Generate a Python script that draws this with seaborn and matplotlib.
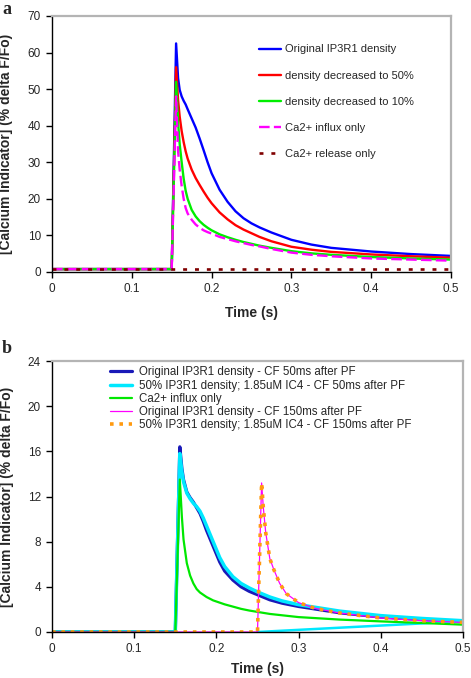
import numpy as np
import pandas as pd
import seaborn as sns
import matplotlib
matplotlib.use("Agg")
import matplotlib.pyplot as plt

# ---- panel a data ----
ta = [0, 0.150, 0.1555, 0.158, 0.160, 0.1625, 0.165, 0.1675, 0.170, 0.175, 0.180,
      0.185, 0.190, 0.195, 0.200, 0.210, 0.220, 0.230, 0.240, 0.250, 0.260,
      0.275, 0.300, 0.325, 0.350, 0.400, 0.450, 0.500]
a_orig = [0.8, 0.8, 62.5, 53, 49.8, 48, 46.8, 45.8, 44.5, 42, 39.5, 36.5, 33.3, 30,
          27, 22.5, 19.2, 16.6, 14.7, 13.3, 12.2, 10.8, 8.8, 7.5, 6.6, 5.6, 4.9, 4.4]
a_50 = [0.8, 0.8, 56, 47, 42.5, 38.5, 35.5, 33, 31, 28, 25.7, 23.8, 22, 20.3,
        18.8, 16.3, 14.4, 12.8, 11.6, 10.6, 9.6, 8.4, 6.9, 6.1, 5.5, 4.8, 4.3, 3.9]
a_10 = [0.8, 0.8, 52, 41, 35, 30, 25.5, 22.2, 20, 17, 15.2, 13.9, 12.9, 12.1,
        11.4, 10.3, 9.5, 8.8, 8.2, 7.7, 7.2, 6.6, 5.7, 5.1, 4.7, 4.1, 3.7, 3.4]
a_influx = [0.8, 0.8, 48, 33, 28, 23.5, 20, 17.5, 16, 14.3, 13, 12.1, 11.4, 10.9,
            10.5, 9.6, 9.0, 8.4, 7.9, 7.4, 7.0, 6.3, 5.3, 4.7, 4.3, 3.7, 3.4, 3.1]
ta_rel = [0, 0.5]
a_release = [0.8, 0.8]
labels_a = ["Original IP3R1 density", "density decreased to 50%",
            "density decreased to 10%", "Ca2+ influx only", "Ca2+ release only"]

# ---- panel b data ----
tb = [0, 0.150, 0.1555, 0.158, 0.160, 0.164, 0.168, 0.172, 0.176, 0.180, 0.184,
      0.188, 0.192, 0.196, 0.200, 0.204, 0.210, 0.220, 0.230, 0.240, 0.250,
      0.265, 0.280, 0.300, 0.350, 0.400, 0.450, 0.500]
b_orig50 = [0, 0, 16.4, 14.5, 13.5, 12.4, 11.9, 11.5, 11.0, 10.5, 9.8, 9.0, 8.3,
            7.6, 6.9, 6.2, 5.4, 4.6, 4.0, 3.6, 3.3, 2.85, 2.55, 2.26, 1.7, 1.32, 1.1, 0.9]
b_ic4_50 = [0, 0, 15.8, 14.2, 13.3, 12.3, 11.8, 11.4, 11.1, 10.7, 10.1, 9.4, 8.7,
            8.0, 7.3, 6.6, 5.8, 4.9, 4.3, 3.9, 3.55, 3.1, 2.75, 2.42, 1.85, 1.45, 1.2, 1.0]
b_influx = [0, 0, 13.5, 10.2, 8.2, 6.1, 5.0, 4.3, 3.8, 3.5, 3.3, 3.1, 2.95, 2.8,
            2.7, 2.6, 2.45, 2.25, 2.05, 1.9, 1.78, 1.6, 1.48, 1.32, 1.1, 0.94, 0.8, 0.65]
tb2 = [0, 0.250, 0.255, 0.257, 0.260, 0.265, 0.270, 0.277, 0.285, 0.300, 0.320,
       0.350, 0.400, 0.450, 0.500]
b_orig150 = [0, 0, 13.2, 11.1, 8.8, 6.5, 5.5, 4.3, 3.4, 2.6, 2.1, 1.68, 1.24, 1.0, 0.85]
b_ic4_150 = [0, 0, 13.2, 11.1, 8.8, 6.5, 5.5, 4.3, 3.4, 2.6, 2.1, 1.68, 1.24, 1.0, 0.85]
tb_extra = [0.25, 0.5]
b_extra = [0, 0.95]
labels_b = ["Original IP3R1 density - CF 50ms after PF",
            "50% IP3R1 density; 1.85uM IC4 - CF 50ms after PF",
            "Ca2+ influx only",
            "Original IP3R1 density - CF 150ms after PF",
            "50% IP3R1 density; 1.85uM IC4 - CF 150ms after PF"]

sns.set_style("white")
plt.rcParams['font.family'] = ['Liberation Sans', 'DejaVu Sans']

fig = plt.figure(figsize=(4.71, 6.78), dpi=100)
ax1 = fig.add_axes([52/471, 1 - 272/678, 399/471, 256/678])
ax2 = fig.add_axes([52/471, 1 - 632/678, 411/471, 271/678])


def line(ax, x, y, label, **kw):
    sns.lineplot(x=x, y=y, ax=ax, label=label, sort=False, estimator=None, **kw)


# panel a
line(ax1, ta, a_orig, labels_a[0], color="#0000ff", lw=1.7)
line(ax1, ta, a_50, labels_a[1], color="#ff0000", lw=1.7)
line(ax1, ta, a_10, labels_a[2], color="#00ee00", lw=1.7)
line(ax1, ta, a_influx, labels_a[3], color="#ff00ff", lw=1.7, linestyle=(0, (4.5, 1.8)))
line(ax1, ta_rel, a_release, labels_a[4], color="#800000", lw=1.9, linestyle=(0, (1.5, 3)))

# panel b
line(ax2, tb, b_orig50, labels_b[0], color="#1a1ab8", lw=2.3)
line(ax2, tb, b_ic4_50, labels_b[1], color="#00e8ff", lw=2.5)
line(ax2, tb_extra, b_extra, "_nolegend_", color="#00e8ff", lw=1.8)
line(ax2, tb, b_influx, labels_b[2], color="#00e800", lw=1.6)
line(ax2, tb2, b_orig150, labels_b[3], color="#ff00ff", lw=0.9)
line(ax2, tb2, b_ic4_150, labels_b[4], color="#ff9a10", lw=2.6, linestyle=(0, (1, 1.6)))

for ax, ymax, step in [(ax1, 70, 10), (ax2, 24, 4)]:
    ax.set_xlim(0, 0.5)
    ax.set_ylim(0, ymax)
    ax.set_xticks([0, 0.1, 0.2, 0.3, 0.4, 0.5])
    ax.set_xticklabels(["0", "0.1", "0.2", "0.3", "0.4", "0.5"])
    ax.set_yticks(np.arange(0, ymax + 1, step))
    ax.tick_params(axis="both", direction="out", length=4, width=1, labelsize=8.5,
                   color="black", pad=4, left=True, bottom=True)
    for s in ["top", "right"]:
        ax.spines[s].set_color("#b4b4b4")
        ax.spines[s].set_linewidth(1.6)
    for s in ["left", "bottom"]:
        ax.spines[s].set_color("black")
        ax.spines[s].set_linewidth(1)
    ax.set_xlabel("Time (s)", fontsize=10, fontweight="bold")
    ax.set_ylabel("[Calcium Indicator] (% delta F/Fo)", fontsize=10, fontweight="bold")

ax1.yaxis.set_label_coords(-38.5/399, 0.5)
ax2.yaxis.set_label_coords(-38/411, 0.5)
ax1.xaxis.set_label_coords(0.5, -34/256)
ax2.xaxis.set_label_coords(0.5, -30/271)

ax1.legend(loc="upper left", bbox_to_anchor=(0.52, 0.889), frameon=False,
           fontsize=8, handlelength=1.9, handletextpad=0.4, labelspacing=1.45,
           borderpad=0, borderaxespad=0)
ax2.legend(loc="upper left", bbox_to_anchor=(0.141, 0.98), frameon=False,
           fontsize=8.3, handlelength=1.9, handletextpad=0.6, labelspacing=0.1,
           borderpad=0, borderaxespad=0)

fig.text(0.004, 0.998, "a", fontsize=13, fontweight="bold", family="Liberation Serif",
         va="top", ha="left")
fig.text(0.004, 1 - 340/678, "b", fontsize=13, fontweight="bold", family="Liberation Serif",
         va="top", ha="left")

fig.savefig("out.png", dpi=100)
